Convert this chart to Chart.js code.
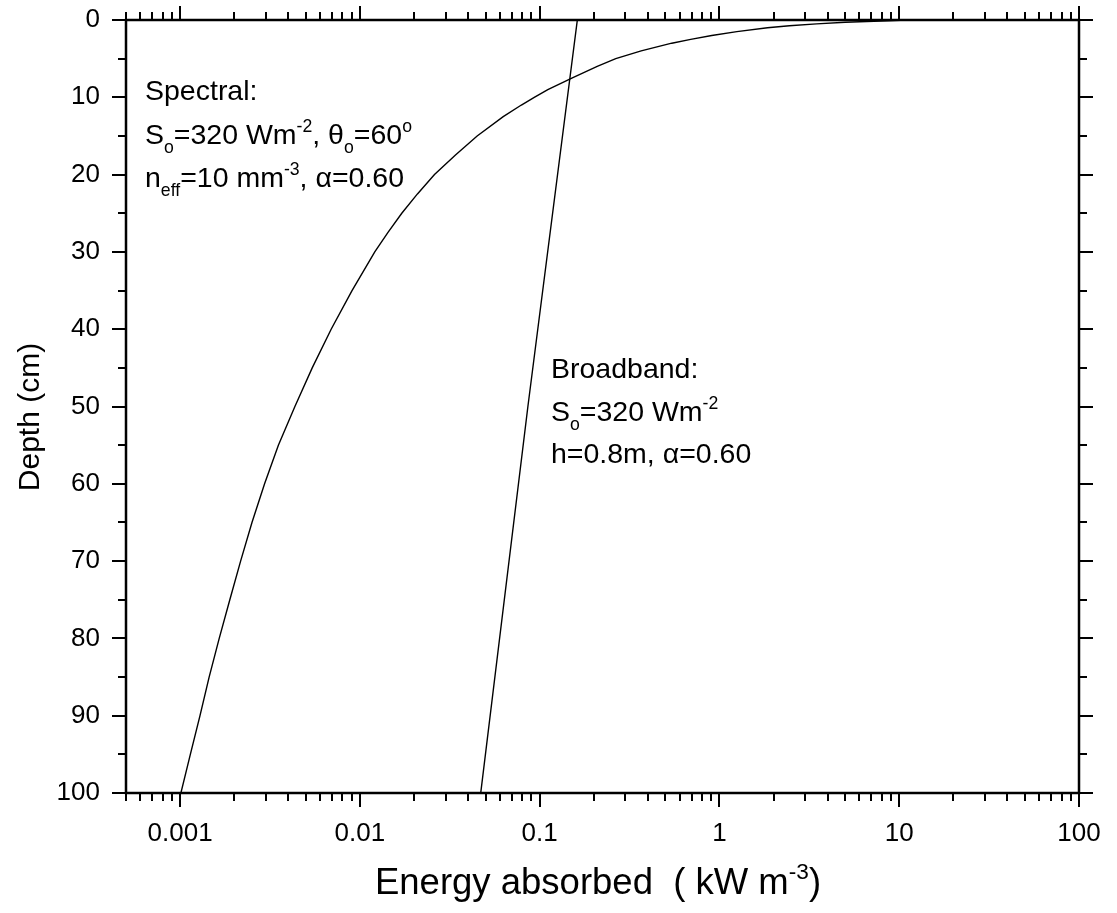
<!DOCTYPE html>
<html>
<head>
<meta charset="utf-8">
<script src="https://cdn.jsdelivr.net/npm/chart.js"></script>
<style>
  html, body { margin: 0; padding: 0; background: #fff; }
  #wrap { width: 1117px; height: 913px; position: relative; }
</style>
</head>
<body>
<div id="wrap"><canvas id="myChart"></canvas></div>
<script>
// spectral curve (depth in cm, energy in kW m-3)
const spectralDepth = [0, 0.05, 0.1, 0.2, 0.3, 0.5, 0.75, 1, 1.5, 2, 2.5, 3, 4, 5, 6, 7.5, 9, 10, 11, 12.5, 15, 17.5, 20, 22.5, 25, 27.5, 30, 35, 40, 45, 50, 55, 60, 65, 70, 75, 80, 85, 90, 95, 100];
const spectralEnergy = [12.3, 10.2, 8.71, 6.6, 5.01, 3.47, 2.45, 1.85, 1.25, 0.906, 0.692, 0.543, 0.367, 0.265, 0.209, 0.152, 0.111, 0.0933, 0.0791, 0.0627, 0.0449, 0.0339, 0.0260, 0.0209, 0.0171, 0.0143, 0.0121, 0.00904, 0.00692, 0.00543, 0.00435, 0.00352, 0.00295, 0.00251, 0.00217, 0.00189, 0.00165, 0.00145, 0.00129, 0.00114, 0.00101];

// broadband curve
const broadbandDepth = [0, 50, 100];
const broadbandEnergy = [0.162, 0.086, 0.047];

// axes
const xMajor = [0.001, 0.01, 0.1, 1, 10, 100];
const xLabels = ['0.001', '0.01', '0.1', '1', '10', '100'];
const xMinor = [0.0005, 0.0006, 0.0007, 0.0008, 0.0009,
  0.002, 0.003, 0.004, 0.005, 0.006, 0.007, 0.008, 0.009,
  0.02, 0.03, 0.04, 0.05, 0.06, 0.07, 0.08, 0.09,
  0.2, 0.3, 0.4, 0.5, 0.6, 0.7, 0.8, 0.9,
  2, 3, 4, 5, 6, 7, 8, 9,
  20, 30, 40, 50, 60, 70, 80, 90];
const yMajor = [0, 10, 20, 30, 40, 50, 60, 70, 80, 90, 100];
const yLabels = ['0', '10', '20', '30', '40', '50', '60', '70', '80', '90', '100'];
const yMinor = [5, 15, 25, 35, 45, 55, 65, 75, 85, 95];

const FONT = '"Liberation Sans", Arial, sans-serif';

const pts = (xs, ys) => ys.map((d, i) => ({x: xs[i], y: d}));

// text with sub/superscripts
function rich(ctx, x, y, parts, size) {
  let cx = x;
  parts.forEach(p => {
    let fs = size, dy = 0;
    if (p.sub) { fs = size * 0.62; dy = size * 0.32; }
    if (p.sup) { fs = size * 0.62; dy = -size * 0.42; }
    ctx.font = fs + 'px ' + FONT;
    ctx.fillText(p.t, cx, y + dy);
    cx += ctx.measureText(p.t).width;
  });
  return cx - x;
}
function richWidth(ctx, parts, size) {
  let w = 0;
  parts.forEach(p => {
    const fs = (p.sub || p.sup) ? size * 0.62 : size;
    ctx.font = fs + 'px ' + FONT;
    w += ctx.measureText(p.t).width;
  });
  return w;
}

const noPad = s => { s.paddingTop = 0; s.paddingBottom = 0; s.paddingLeft = 0; s.paddingRight = 0; };

const frame = {
  id: 'frame',
  afterDraw(c) {
    const {ctx, chartArea: a, scales: {x, y}} = c;
    ctx.save();
    ctx.strokeStyle = '#000';
    ctx.lineWidth = 2.5;
    ctx.strokeRect(a.left, a.top, a.right - a.left, a.bottom - a.top);
    ctx.lineWidth = 2;
    ctx.beginPath();
    const xt = (v, len) => {
      const p = Math.round(x.getPixelForValue(v));
      ctx.moveTo(p, a.bottom); ctx.lineTo(p, a.bottom + len);
      ctx.moveTo(p, a.top); ctx.lineTo(p, a.top - len);
    };
    const yt = (v, len) => {
      const p = Math.round(y.getPixelForValue(v));
      ctx.moveTo(a.left, p); ctx.lineTo(a.left - len, p);
      ctx.moveTo(a.right, p); ctx.lineTo(a.right + len, p);
    };
    xMajor.forEach(v => xt(v, 14));
    xMinor.forEach(v => xt(v, 8));
    yMajor.forEach(v => yt(v, 14));
    yMinor.forEach(v => yt(v, 8));
    ctx.stroke();

    ctx.fillStyle = '#000';
    ctx.textAlign = 'left';
    ctx.textBaseline = 'alphabetic';
    const s = 28.5, lx = 145;
    rich(ctx, lx, 100, [{t: 'Spectral:'}], s);
    rich(ctx, lx, 144, [{t: 'S'}, {t: 'o', sub: true}, {t: '=320 Wm'}, {t: '-2', sup: true}, {t: ', θ'}, {t: 'o', sub: true}, {t: '=60'}, {t: 'o', sup: true}], s);
    rich(ctx, lx, 187, [{t: 'n'}, {t: 'eff', sub: true}, {t: '=10 mm'}, {t: '-3', sup: true}, {t: ', α=0.60'}], s);
    const bx = 551;
    rich(ctx, bx, 378, [{t: 'Broadband:'}], s);
    rich(ctx, bx, 421, [{t: 'S'}, {t: 'o', sub: true}, {t: '=320 Wm'}, {t: '-2', sup: true}], s);
    rich(ctx, bx, 463, [{t: 'h=0.8m, α=0.60'}], s);

    // axis titles
    const xt2 = [{t: 'Energy absorbed  ( kW m'}, {t: '-3', sup: true}, {t: ')'}];
    const ts = 36.5;
    const w = richWidth(ctx, xt2, ts);
    rich(ctx, 598 - w / 2, 894, xt2, ts);

    ctx.translate(39, 417);
    ctx.rotate(-Math.PI / 2);
    ctx.textAlign = 'center';
    ctx.font = '30px ' + FONT;
    ctx.fillText('Depth (cm)', 0, 0);
    ctx.restore();
  }
};

const config = {
  type: 'scatter',
  data: {
    datasets: [{
      label: 'Spectral',
      data: pts(spectralEnergy, spectralDepth),
      showLine: true,
      borderColor: '#000',
      borderWidth: 1.4,
      pointRadius: 0,
      tension: 0
    }, {
      label: 'Broadband',
      data: pts(broadbandEnergy, broadbandDepth),
      showLine: true,
      borderColor: '#000',
      borderWidth: 1.4,
      pointRadius: 0
    }]
  },
  options: {
    responsive: true,
    maintainAspectRatio: false,
    animation: false,
    devicePixelRatio: 1,
    layout: { padding: { left: 0, top: 20, right: 38, bottom: 0 } },
    plugins: { legend: { display: false }, tooltip: { enabled: false } },
    scales: {
      x: {
        type: 'logarithmic',
        min: 0.0005,
        max: 100,
        grid: { display: false, drawTicks: false },
        border: { display: false },
        afterBuildTicks: s => { s.ticks = xMajor.map(v => ({value: v})); },
        afterFit: s => { s.height = 120; noPad(s); },
        ticks: {
          autoSkip: false,
          maxRotation: 0,
          padding: 25,
          color: '#000',
          font: { family: FONT, size: 26 },
          callback: (v, i) => xLabels[i]
        }
      },
      y: {
        type: 'linear',
        reverse: true,
        min: 0,
        max: 100,
        grid: { display: false, drawTicks: false },
        border: { display: false },
        afterBuildTicks: s => { s.ticks = yMajor.map(v => ({value: v})); },
        afterFit: s => { s.width = 126; noPad(s); },
        ticks: {
          autoSkip: false,
          padding: 26,
          color: '#000',
          font: { family: FONT, size: 26 },
          callback: (v, i) => yLabels[i]
        }
      }
    }
  },
  plugins: [frame]
};

new Chart(document.getElementById('myChart'), config);
</script>
</body>
</html>
